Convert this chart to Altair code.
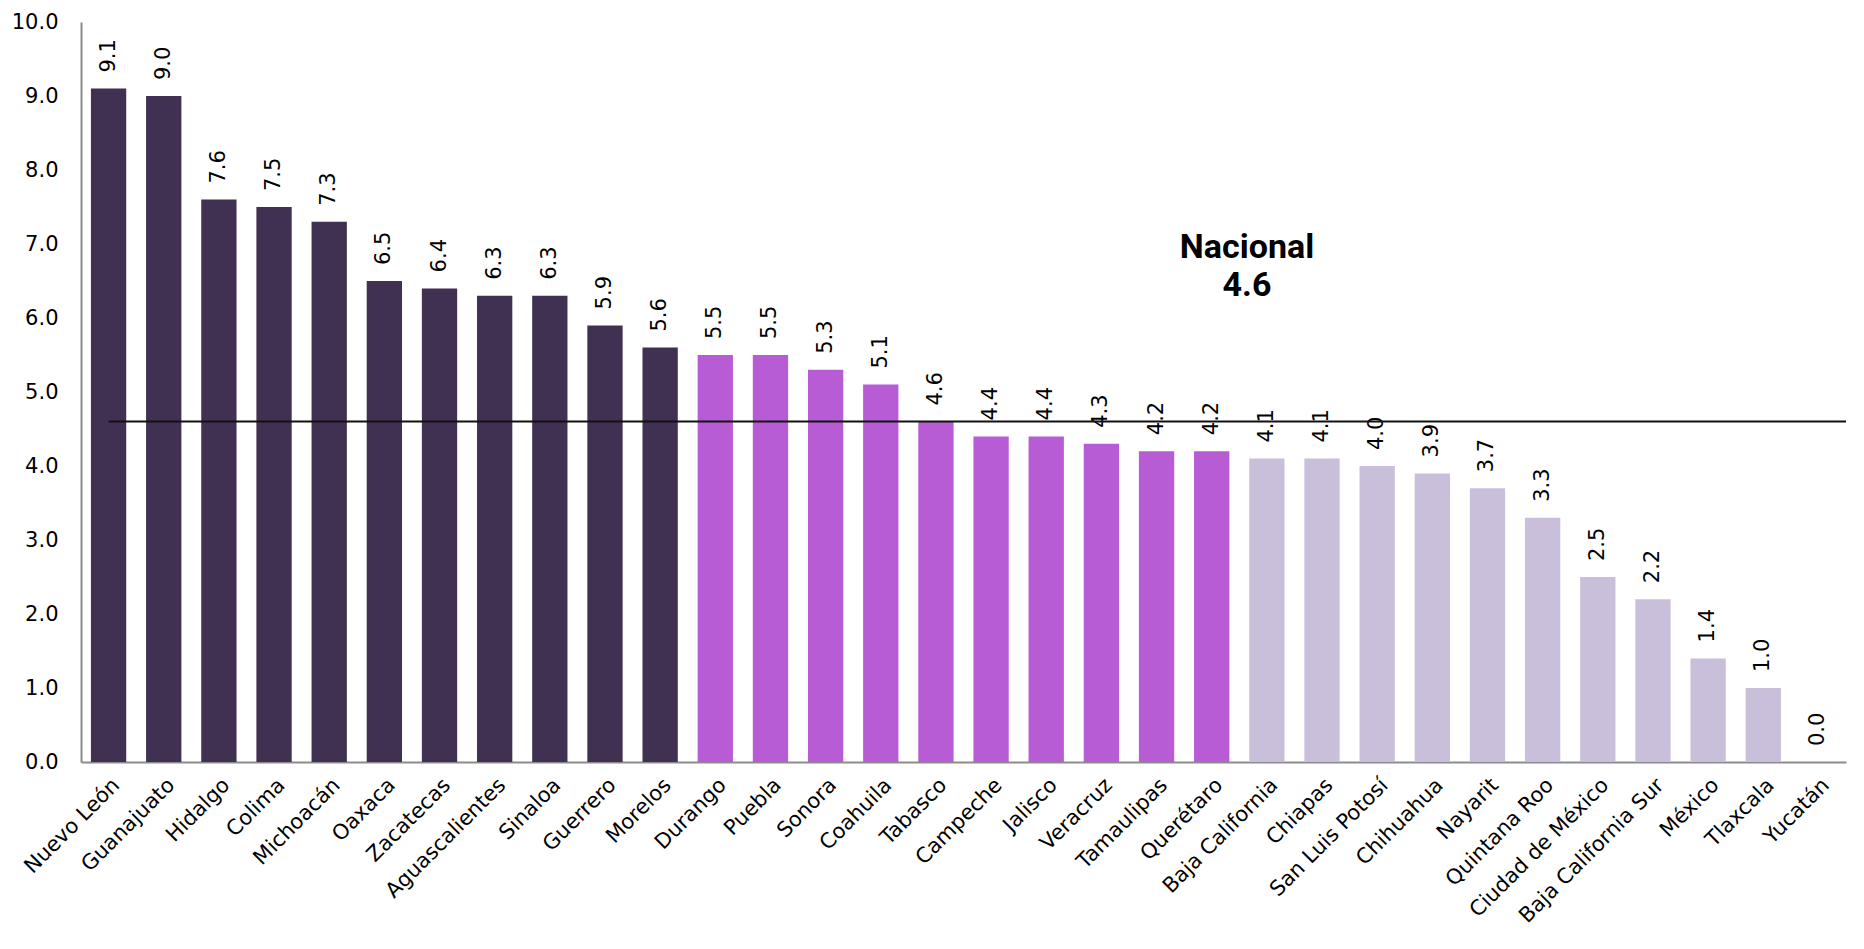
import altair as alt
import pandas as pd

estados = ["Nuevo León", "Guanajuato", "Hidalgo", "Colima", "Michoacán", "Oaxaca",
           "Zacatecas", "Aguascalientes", "Sinaloa", "Guerrero", "Morelos",
           "Durango", "Puebla", "Sonora", "Coahuila", "Tabasco", "Campeche",
           "Jalisco", "Veracruz", "Tamaulipas", "Querétaro",
           "Baja California", "Chiapas", "San Luis Potosí", "Chihuahua", "Nayarit",
           "Quintana Roo", "Ciudad de México", "Baja California Sur", "México",
           "Tlaxcala", "Yucatán"]
valores = [9.1, 9.0, 7.6, 7.5, 7.3, 6.5, 6.4, 6.3, 6.3, 5.9, 5.6,
           5.5, 5.5, 5.3, 5.1, 4.6, 4.4, 4.4, 4.3, 4.2, 4.2,
           4.1, 4.1, 4.0, 3.9, 3.7, 3.3, 2.5, 2.2, 1.4, 1.0, 0.0]
grupos = ["alto"] * 11 + ["medio"] * 10 + ["bajo"] * 11
nacional = 4.6
nacional_texto = ["Nacional", "4.6"]
nacional_y = [6.94, 6.43]

grupo_dom = ["alto", "medio", "bajo"]
grupo_col = ["#403152", "#b75cd5", "#cabfdb"]

df = pd.DataFrame({"estado": estados, "valor": valores, "grupo": grupos})
df_nac = pd.DataFrame({"v": [nacional]})
df_txt = pd.DataFrame({"t": nacional_texto, "y": nacional_y})

FONT = "DejaVu Sans"

x_scale = alt.Scale(domain=estados, paddingInner=0.36, paddingOuter=0.18)
x_enc = alt.X("estado:N", sort=estados, title=None, scale=x_scale,
              axis=alt.Axis(labelAngle=-45, labelFontSize=21, labelFont=FONT,
                            labelColor="#000000", ticks=False, labelPadding=12,
                            labelLimit=400,
                            domainColor="#8c8c8c", domainWidth=2))
y_scale = alt.Scale(domain=[0, 10], nice=False)

bars = alt.Chart(df).mark_bar().encode(
    x=x_enc,
    y=alt.Y("valor:Q", scale=y_scale, title=None,
            axis=alt.Axis(values=list(range(11)), format=".1f", labelFontSize=21,
                          labelFont=FONT, labelColor="#000000", ticks=False,
                          grid=False, labelPadding=23,
                          domainColor="#8c8c8c", domainWidth=2)),
    color=alt.Color("grupo:N", scale=alt.Scale(domain=grupo_dom, range=grupo_col),
                    legend=None),
)

labels = alt.Chart(df).mark_text(angle=270, align="left", baseline="middle",
                                 dx=16, fontSize=21, font=FONT, color="#000000").encode(
    x=alt.X("estado:N", sort=estados, scale=x_scale),
    y=alt.Y("valor:Q", scale=y_scale),
    text=alt.Text("valor:Q", format=".1f"),
)

rule = alt.Chart(df_nac).mark_rule(color="#111111", strokeWidth=2).encode(
    y=alt.Y("v:Q", scale=y_scale),
    x=alt.datum(estados[0]),
    x2=alt.value(1765),
)

nac = alt.Chart(df_txt).mark_text(fontSize=34, fontWeight="bold", font="Roboto",
                                  color="#000000").encode(
    y=alt.Y("y:Q", scale=y_scale),
    x=alt.value(1166),
    text="t:N",
)

chart = alt.layer(bars, labels, rule, nac).properties(
    width=1765, height=740,
    background="#ffffff",
    autosize=alt.AutoSizeParams(type="none"),
    padding={"left": 73, "top": 14, "right": 5, "bottom": 178},
).configure_view(stroke=None)

chart.save("out.html", embed_options={"renderer": "svg", "actions": False})
